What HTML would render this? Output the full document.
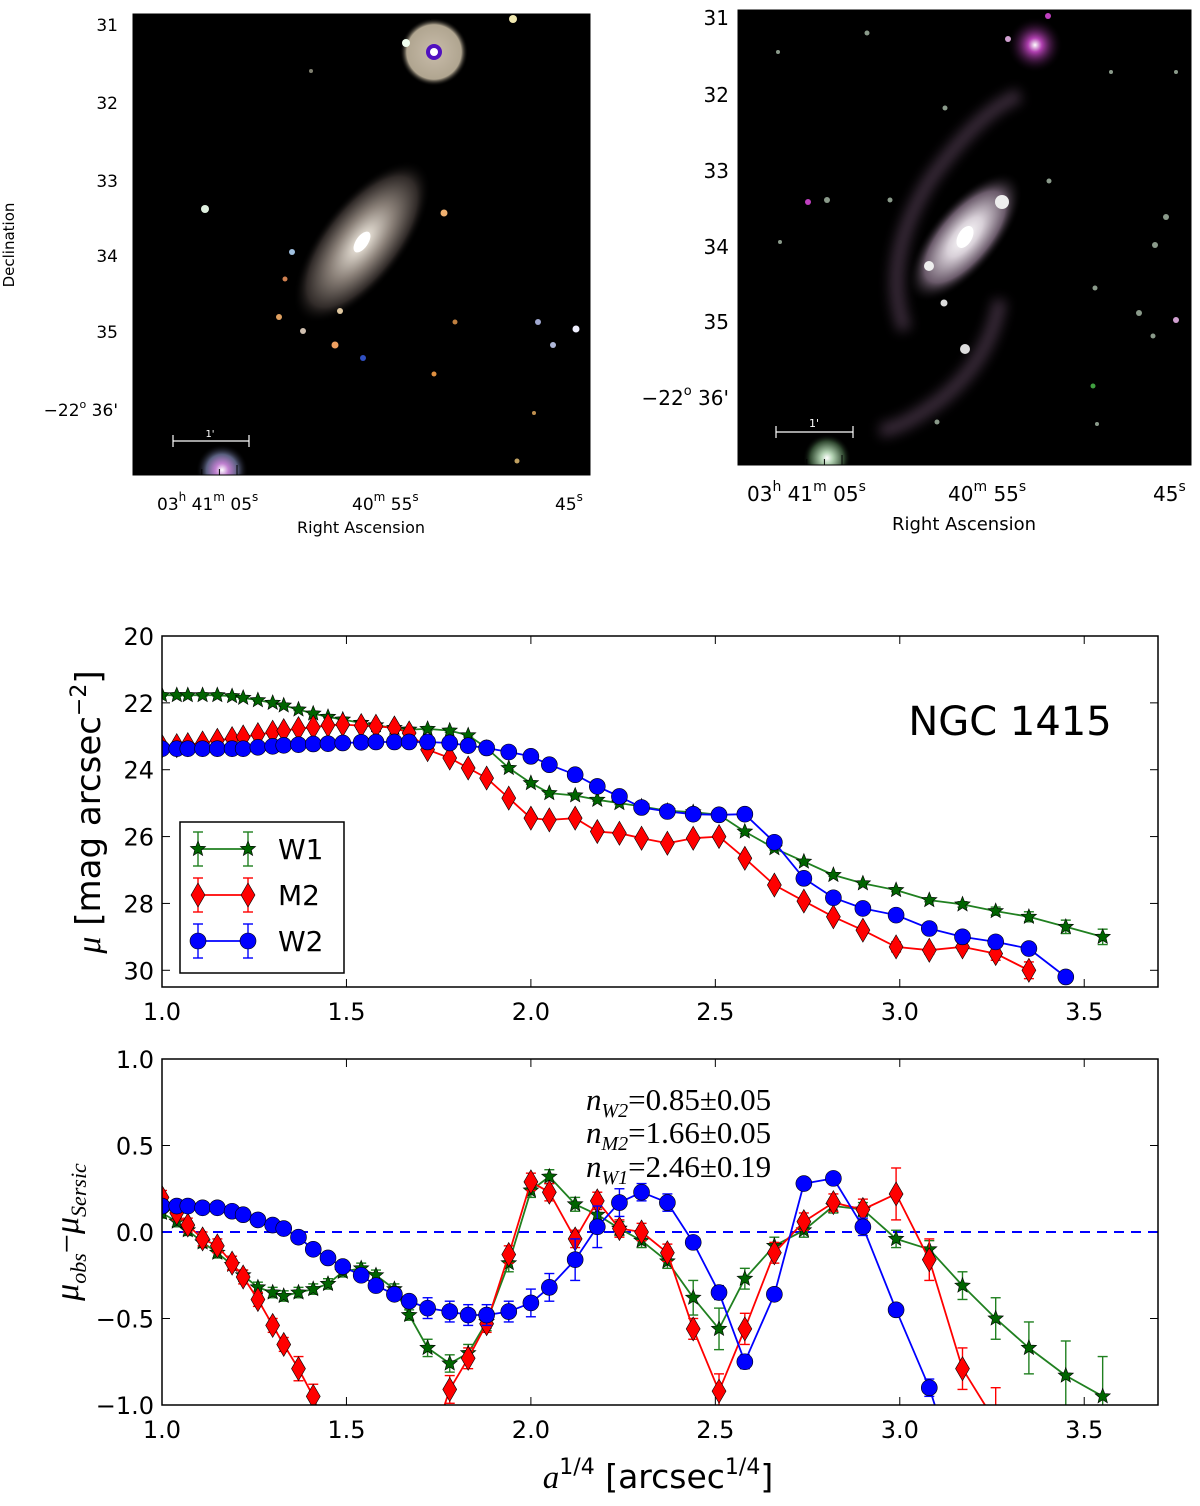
<!DOCTYPE html>
<html><head><meta charset="utf-8"><style>
html,body{margin:0;padding:0;background:#fff;overflow:hidden;}
svg{display:block;font-family:"DejaVu Sans","Liberation Sans",sans-serif;}
</style></head><body>
<svg id="fig" width="1200" height="1506" viewBox="0 0 1200 1506" xmlns="http://www.w3.org/2000/svg">
<defs>
<radialGradient id="galL" cx="50%" cy="50%" r="50%"><stop offset="0" stop-color="#fff"/><stop offset="0.12" stop-color="#ddd6cc"/><stop offset="0.45" stop-color="#8a8078"/><stop offset="0.8" stop-color="#302a28"/><stop offset="1" stop-color="#000" stop-opacity="0"/></radialGradient>
<radialGradient id="galR" cx="50%" cy="50%" r="50%"><stop offset="0" stop-color="#fff"/><stop offset="0.3" stop-color="#d8d0d8"/><stop offset="0.7" stop-color="#6a5a6a"/><stop offset="1" stop-color="#000" stop-opacity="0"/></radialGradient>
<radialGradient id="haloL" cx="50%" cy="50%" r="50%"><stop offset="0" stop-color="#c8bcaa"/><stop offset="0.8" stop-color="#b0a590"/><stop offset="1" stop-color="#000" stop-opacity="0"/></radialGradient>
<radialGradient id="haloP" cx="50%" cy="50%" r="50%"><stop offset="0" stop-color="#fff"/><stop offset="0.25" stop-color="#b040b0"/><stop offset="1" stop-color="#000" stop-opacity="0"/></radialGradient>
<radialGradient id="haloB" cx="50%" cy="50%" r="50%"><stop offset="0" stop-color="#fff"/><stop offset="0.25" stop-color="#c080d0"/><stop offset="0.6" stop-color="#5a6080"/><stop offset="1" stop-color="#000" stop-opacity="0"/></radialGradient>
<radialGradient id="haloG" cx="50%" cy="50%" r="50%"><stop offset="0" stop-color="#fff"/><stop offset="0.25" stop-color="#b0d0b0"/><stop offset="0.7" stop-color="#304830"/><stop offset="1" stop-color="#000" stop-opacity="0"/></radialGradient>
<filter id="blur6"><feGaussianBlur stdDeviation="6"/></filter>
<clipPath id="clipTop"><rect x="162" y="636" width="996" height="351"/></clipPath>
<clipPath id="clipBot"><rect x="162" y="1059" width="996" height="346"/></clipPath>
<clipPath id="clipImgL"><rect x="133" y="14" width="457" height="461"/></clipPath>
<clipPath id="clipImgR"><rect x="738" y="10" width="453" height="455"/></clipPath>
</defs>

<g>
<rect x="133" y="14" width="457" height="461" fill="#000"/>
<g clip-path="url(#clipImgL)">
<ellipse cx="362" cy="242" rx="98" ry="42" transform="rotate(-52 362 242)" fill="url(#galL)"/>
<ellipse cx="362" cy="242" rx="12" ry="6" transform="rotate(-55 362 242)" fill="#fff"/>
<circle cx="434" cy="52" r="34" fill="url(#haloL)"/>
<circle cx="434" cy="52" r="8" fill="#5010c0"/><circle cx="434" cy="52" r="4" fill="#fff"/>
<circle cx="222" cy="470" r="26" fill="url(#haloB)"/>
<g fill="#e8e0d0">
<circle cx="205" cy="209" r="4" fill="#e0f0e0"/><circle cx="444" cy="213" r="3.5" fill="#f0b070"/>
<circle cx="292" cy="252" r="3" fill="#a0c0e0"/><circle cx="285" cy="279" r="2.5" fill="#d08050"/>
<circle cx="279" cy="317" r="3" fill="#e0a060"/><circle cx="303" cy="331" r="3" fill="#d0c0b0"/>
<circle cx="335" cy="345" r="3.5" fill="#f0a060"/><circle cx="340" cy="311" r="3" fill="#e0c8a0"/>
<circle cx="363" cy="358" r="3" fill="#3050c0"/><circle cx="455" cy="322" r="2.5" fill="#c08040"/>
<circle cx="538" cy="322" r="3" fill="#a0a8d0"/><circle cx="576" cy="329" r="3.5" fill="#f0f0ff"/>
<circle cx="553" cy="345" r="3" fill="#b0b8d8"/><circle cx="434" cy="374" r="2.5" fill="#e09040"/>
<circle cx="406" cy="43" r="4" fill="#f0fff0"/><circle cx="513" cy="19" r="4" fill="#f0e8b0"/>
<circle cx="534" cy="413" r="2" fill="#c09050"/><circle cx="517" cy="461" r="2.5" fill="#c0a060"/>
<circle cx="311" cy="71" r="2" fill="#808070"/>
</g>
</g>
<rect x="133" y="14" width="457" height="461" fill="none" stroke="#000" stroke-width="1"/>
<g id="ticksL" stroke="#000" stroke-width="1"></g>
<g fill="#000" font-size="17" text-anchor="end">
<text x="118" y="31">31</text><text x="118" y="109">32</text><text x="118" y="187">33</text><text x="118" y="262">34</text><text x="118" y="338">35</text><text x="118" y="416">−22<tspan font-size="11" dy="-8">o</tspan><tspan dy="8"> 36'</tspan></text>
</g>
<text x="14" y="245" font-size="15" text-anchor="middle" transform="rotate(-90 14 245)">Declination</text>
<g fill="#000" font-size="17">
<text x="157" y="510">03<tspan font-size="12" dy="-9">h</tspan><tspan dy="9"> 41</tspan><tspan font-size="12" dy="-9">m</tspan><tspan dy="9"> 05</tspan><tspan font-size="12" dy="-9">s</tspan></text>
<text x="352" y="510">40<tspan font-size="12" dy="-9">m</tspan><tspan dy="9"> 55</tspan><tspan font-size="12" dy="-9">s</tspan></text>
<text x="555" y="510">45<tspan font-size="12" dy="-9">s</tspan></text>
</g>
<text x="361" y="533" font-size="16" text-anchor="middle">Right Ascension</text>
<g stroke="#fff" stroke-width="1.2"><line x1="173" y1="441" x2="249" y2="441"/><line x1="173" y1="435" x2="173" y2="447"/><line x1="249" y1="435" x2="249" y2="447"/></g>
<text x="210" y="437" fill="#fff" font-size="10" text-anchor="middle">1'</text>
</g>

<g>
<rect x="738" y="10" width="453" height="455" fill="#000"/>
<g clip-path="url(#clipImgR)">
<g filter="url(#blur6)" opacity="0.55">
<path d="M905 330 Q880 260 930 180 Q980 110 1020 95" stroke="#6a506a" stroke-width="14" fill="none"/>
<path d="M1000 300 Q990 360 940 400 Q900 430 880 430" stroke="#6a506a" stroke-width="14" fill="none"/>
</g>
<ellipse cx="965" cy="237" rx="80" ry="34" transform="rotate(-50 965 237)" fill="url(#galR)"/>
<ellipse cx="965" cy="237" rx="12" ry="7" transform="rotate(-60 965 237)" fill="#fff"/>
<circle cx="1002" cy="202" r="7" fill="#eee"/><circle cx="929" cy="266" r="5" fill="#eee"/>
<circle cx="1035" cy="45" r="28" fill="url(#haloP)"/>
<circle cx="827" cy="458" r="24" fill="url(#haloG)"/>
<circle cx="965" cy="349" r="5" fill="#ddd"/>
<g fill="#8a9a8a">
<circle cx="808" cy="202" r="3" fill="#c040c0"/><circle cx="827" cy="200" r="3"/><circle cx="890" cy="200" r="2.5"/>
<circle cx="944" cy="303" r="3.5" fill="#ddd"/><circle cx="1008" cy="39" r="3" fill="#d0a0d0"/>
<circle cx="1166" cy="217" r="3"/><circle cx="1155" cy="245" r="3"/><circle cx="1139" cy="313" r="3"/>
<circle cx="1176" cy="320" r="3" fill="#d0a0d0"/><circle cx="1153" cy="336" r="2.5"/><circle cx="1049" cy="181" r="2.5"/>
<circle cx="945" cy="108" r="2.5"/><circle cx="867" cy="33" r="2.5"/><circle cx="778" cy="52" r="2"/>
<circle cx="937" cy="422" r="2.5"/><circle cx="1095" cy="288" r="2.5"/><circle cx="1097" cy="424" r="2"/>
<circle cx="1111" cy="72" r="2"/><circle cx="1176" cy="72" r="2"/><circle cx="780" cy="242" r="2"/>
<circle cx="1048" cy="16" r="3" fill="#c040c0"/><circle cx="1093" cy="386" r="2.5" fill="#40a040"/>
</g>
</g>
<rect x="738" y="10" width="453" height="455" fill="none" stroke="#000" stroke-width="1"/>
<g id="ticksR" stroke="#000" stroke-width="1"></g>
<g fill="#000" font-size="20" text-anchor="end">
<text x="729" y="25">31</text><text x="729" y="102">32</text><text x="729" y="178">33</text><text x="729" y="254">34</text><text x="729" y="329">35</text><text x="729" y="405">−22<tspan font-size="13" dy="-10">o</tspan><tspan dy="10"> 36'</tspan></text>
</g>
<g fill="#000" font-size="20">
<text x="747" y="501">03<tspan font-size="14" dy="-10">h</tspan><tspan dy="10"> 41</tspan><tspan font-size="14" dy="-10">m</tspan><tspan dy="10"> 05</tspan><tspan font-size="14" dy="-10">s</tspan></text>
<text x="948" y="501">40<tspan font-size="14" dy="-10">m</tspan><tspan dy="10"> 55</tspan><tspan font-size="14" dy="-10">s</tspan></text>
<text x="1153" y="501">45<tspan font-size="14" dy="-10">s</tspan></text>
</g>
<text x="964" y="530" font-size="18" text-anchor="middle">Right Ascension</text>
<g stroke="#fff" stroke-width="1.2"><line x1="776" y1="432" x2="853" y2="432"/><line x1="776" y1="426" x2="776" y2="438"/><line x1="853" y1="426" x2="853" y2="438"/></g>
<text x="814" y="427" fill="#fff" font-size="11" text-anchor="middle">1'</text>
</g>

<g id="topAxes"></g>
<g id="botAxes"></g>

<text x="1010" y="735" font-size="40" text-anchor="middle">NGC 1415</text>
<text transform="translate(100 812) rotate(-90)" font-size="34" text-anchor="middle"><tspan font-family="Liberation Serif,serif" font-style="italic">μ</tspan> [mag arcsec<tspan font-size="22" dy="-14">−2</tspan><tspan dy="14">]</tspan></text>
<text transform="translate(78 1232) rotate(-90)" font-size="34" text-anchor="middle" font-family="Liberation Serif,serif" font-style="italic">μ<tspan font-size="22" dy="8">obs</tspan><tspan dy="-8" font-style="normal">−</tspan>μ<tspan font-size="22" dy="8">Sersic</tspan></text>
<text x="658" y="1488" font-size="33" text-anchor="middle"><tspan font-family="Liberation Serif,serif" font-style="italic">a</tspan><tspan font-size="22" dy="-14">1/4</tspan><tspan dy="14"> [arcsec</tspan><tspan font-size="22" dy="-14">1/4</tspan><tspan dy="14">]</tspan></text>
<g font-family="Liberation Serif,serif" font-size="31">
<text x="586" y="1110"><tspan font-style="italic">n</tspan><tspan font-size="20" dy="7" font-style="italic">W2</tspan><tspan dy="-7">=0.85±0.05</tspan></text>
<text x="586" y="1143"><tspan font-style="italic">n</tspan><tspan font-size="20" dy="7" font-style="italic">M2</tspan><tspan dy="-7">=1.66±0.05</tspan></text>
<text x="586" y="1177"><tspan font-style="italic">n</tspan><tspan font-size="20" dy="7" font-style="italic">W1</tspan><tspan dy="-7">=2.46±0.19</tspan></text>
</g>
<g id="legend"></g>
</svg>
<script>
const aQuarter = [1.00,1.04,1.07,1.11,1.15,1.19,1.22,1.26,1.30,1.33,1.37,1.41,1.45,1.49,1.54,1.58,1.63,1.67,1.72,1.78,1.83,1.88,1.94,2.00,2.05,2.12,2.18,2.24,2.30,2.37,2.44,2.51,2.58,2.66,2.74,2.82,2.90,2.99,3.08,3.17,3.26,3.35,3.45,3.55];
const muW1 = [21.77,21.77,21.77,21.77,21.77,21.80,21.85,21.92,22.00,22.08,22.20,22.32,22.42,22.50,22.60,22.67,22.75,22.80,22.78,22.83,22.97,23.35,23.95,24.40,24.70,24.77,24.90,25.00,25.10,25.23,25.27,25.35,25.85,26.35,26.75,27.15,27.40,27.60,27.90,28.03,28.23,28.40,28.70,29.00];
const muM2 = [23.30,23.28,23.25,23.20,23.12,23.07,23.02,22.95,22.88,22.83,22.77,22.73,22.67,22.65,22.68,22.70,22.75,22.90,23.40,23.65,23.95,24.25,24.85,25.45,25.50,25.45,25.85,25.90,26.05,26.20,26.05,26.00,26.65,27.45,27.93,28.40,28.80,29.30,29.40,29.30,29.50,30.00,null,null];
const muW2 = [23.37,23.37,23.37,23.37,23.37,23.37,23.37,23.33,23.30,23.27,23.25,23.23,23.22,23.20,23.18,23.17,23.17,23.17,23.17,23.20,23.28,23.35,23.47,23.60,23.85,24.15,24.50,24.80,25.13,25.25,25.33,25.35,25.33,26.17,27.25,27.83,28.15,28.35,28.75,29.00,29.15,29.35,30.20,null];
const resW1 = [0.11,0.06,0.01,-0.06,-0.12,-0.19,-0.25,-0.32,-0.35,-0.37,-0.35,-0.33,-0.30,-0.23,-0.21,-0.25,-0.33,-0.48,-0.67,-0.76,-0.70,-0.52,-0.18,0.24,0.32,0.16,0.10,0.02,-0.05,-0.17,-0.38,-0.56,-0.27,-0.08,0.01,0.15,0.13,-0.04,-0.10,-0.31,-0.50,-0.67,-0.83,-0.95];
const resM2 = [0.20,0.11,0.04,-0.04,-0.08,-0.18,-0.26,-0.39,-0.54,-0.65,-0.79,-0.95,-1.20,-1.50,-1.80,-1.90,-1.80,-1.60,-1.30,-0.91,-0.73,-0.53,-0.13,0.29,0.23,-0.04,0.18,0.02,0.00,-0.12,-0.56,-0.92,-0.56,-0.12,0.06,0.17,0.13,0.22,-0.16,-0.79,-1.10,-1.30,null,null];
const resW2 = [0.15,0.15,0.15,0.14,0.14,0.12,0.10,0.07,0.04,0.02,-0.03,-0.10,-0.15,-0.20,-0.25,-0.31,-0.36,-0.40,-0.44,-0.46,-0.48,-0.48,-0.46,-0.41,-0.32,-0.16,0.03,0.17,0.23,0.17,-0.06,-0.35,-0.75,-0.36,0.28,0.31,0.03,-0.45,-0.90,-1.50,-1.80,-2.00,-2.50,null];
const errW1 = [0.03,0.03,0.03,0.03,0.03,0.03,0.03,0.03,0.03,0.03,0.03,0.03,0.03,0.03,0.03,0.03,0.03,0.03,0.05,0.05,0.05,0.05,0.05,0.04,0.04,0.04,0.04,0.04,0.04,0.04,0.10,0.12,0.06,0.05,0.04,0.04,0.04,0.05,0.05,0.08,0.12,0.15,0.20,0.23];
const errM2 = [0.04,0.04,0.04,0.04,0.04,0.04,0.04,0.04,0.04,0.04,0.07,0.07,0.07,0.07,0.07,0.07,0.07,0.07,0.08,0.08,0.06,0.05,0.05,0.05,0.05,0.05,0.05,0.05,0.05,0.05,0.06,0.10,0.09,0.06,0.05,0.05,0.06,0.15,0.12,0.12,0.20,0.25,0,0];
const errW2 = [0.01,0.01,0.01,0.01,0.01,0.01,0.01,0.01,0.01,0.01,0.01,0.01,0.01,0.01,0.03,0.03,0.03,0.03,0.06,0.06,0.06,0.06,0.06,0.08,0.08,0.12,0.12,0.08,0.05,0.05,0.03,0.04,0.04,0.03,0.02,0.02,0.05,0.03,0.05,0.05,0.05,0.05,0.05,0];
const seriesNames = ["W1","M2","W2"];
const seriesColors = ["#007a00","#ff0000","#0000ff"];
const xTicks = [1.0,1.5,2.0,2.5,3.0,3.5];
const yTicksTop = [20,22,24,26,28,30];
const yTicksBot = [1.0,0.5,0.0,-0.5,-1.0];
const sersicFitLine = [0.0];

const NS="http://www.w3.org/2000/svg";
function mk(tag, attrs, parent){const e=document.createElementNS(NS,tag);for(const k in attrs)e.setAttribute(k,attrs[k]);if(parent)parent.appendChild(e);return e;}

const X0=162,X1=1158, XMIN=1.0, XMAX=3.70;
const xs = v => X0 + (v-XMIN)/(XMAX-XMIN)*(X1-X0);
const topY = v => 636 + (v-20)/(30.5-20)*351;
const botY = v => 1059 + (1.0-v)/2.0*346;

function marker(g, kind, x, y, color){
  let m;
  if(kind===0){
    let p=""; const R=8,r=3.5;
    for(let i=0;i<10;i++){const a=-Math.PI/2+i*Math.PI/5;const rr=i%2?r:R;p+=(i?"L":"M")+(x+rr*Math.cos(a)).toFixed(1)+" "+(y+rr*Math.sin(a)).toFixed(1);}
    m=mk("path",{d:p+"Z",fill:color,stroke:"#000","stroke-width":0.6},g);
  } else if(kind===1){
    m=mk("path",{d:`M${x} ${y-12}L${x+7} ${y}L${x} ${y+12}L${x-7} ${y}Z`,fill:color,stroke:"#000","stroke-width":0.6},g);
  } else {
    m=mk("circle",{cx:x,cy:y,r:8,fill:color,stroke:"#000","stroke-width":0.6},g);
  }
  return m;
}

function clipSeg(x1,y1,x2,y2,ya,yb){
  // clip segment to y in [ya,yb]
  let t0=0,t1=1;const dy=y2-y1;
  if(dy===0){ if(y1<ya||y1>yb) return null; return [x1,y1,x2,y2]; }
  let ta=(ya-y1)/dy, tb=(yb-y1)/dy; if(ta>tb){const t=ta;ta=tb;tb=t;}
  t0=Math.max(t0,ta);t1=Math.min(t1,tb); if(t0>t1) return null;
  return [x1+(x2-x1)*t0,y1+dy*t0,x1+(x2-x1)*t1,y1+dy*t1];
}

function drawAxes(root, yTop, yBot, yfn, yTicks, fmt, clipId, seriesVals, errVals, errScale){
  mk("rect",{x:X0,y:yTop,width:X1-X0,height:yBot-yTop,fill:"#fff"},root);
  const tg=mk("g",{stroke:"#000","stroke-width":1},root);
  
  
  xTicks.forEach(t=>{const x=xs(t);mk("line",{x1:x,y1:yBot,x2:x,y2:yBot-8},tg);mk("line",{x1:x,y1:yTop,x2:x,y2:yTop+8},tg);
    const tx=mk("text",{x:x,y:yBot+33,"font-size":24,"text-anchor":"middle",fill:"#000"},root);tx.textContent=t.toFixed(1);
    
    });
  yTicks.forEach(t=>{const y=yfn(t);mk("line",{x1:X0,y1:y,x2:X0+8,y2:y},tg);mk("line",{x1:X1,y1:y,x2:X1-8,y2:y},tg);
    const tx=mk("text",{x:X0-8,y:y+9,"font-size":24,"text-anchor":"end",fill:"#000"},root);tx.textContent=fmt(t);
    
    });
  const cg=mk("g",{"clip-path":`url(#${clipId})`},root);
  if(clipId==="clipBot"){
    const d=mk("line",{x1:X0,x2:X1,y1:yfn(sersicFitLine[0]),y2:yfn(sersicFitLine[0]),stroke:"#0000ff","stroke-width":2,"stroke-dasharray":"10,7"},cg);
    
    
  }
  const inR = y => y>=yTop-2 && y<=yBot+2;
  seriesVals.forEach((vals,si)=>{
    const g=mk("g",{},cg);
    
    
    const col=seriesColors[si];
    const lineCol = si===0?"#208020":col;
    let pts=[];
    vals.forEach((v,i)=>{if(v!==null)pts.push([xs(aQuarter[i]),yfn(v)]);});
    let d="";
    for(let k=0;k+1<pts.length;k++){const s=clipSeg(pts[k][0],pts[k][1],pts[k+1][0],pts[k+1][1],yTop,yBot);
      if(s)d+=`M${s[0].toFixed(1)} ${s[1].toFixed(1)}L${s[2].toFixed(1)} ${s[3].toFixed(1)}`;}
    mk("path",{d:d,fill:"none",stroke:lineCol,"stroke-width":1.8,"stroke-linejoin":"round"},g);
    vals.forEach((v,i)=>{if(v===null)return;const e=errVals[si][i]*errScale;const x=xs(aQuarter[i]);
      if(e>0){let y1=yfn(v-e),y2=yfn(v+e);if(y1<yTop&&y2<yTop)return;if(y1>yBot&&y2>yBot)return;
      const c1=Math.max(yTop,Math.min(yBot,y1)),c2=Math.max(yTop,Math.min(yBot,y2));
      mk("line",{x1:x,x2:x,y1:c1,y2:c2,stroke:lineCol,"stroke-width":1.4},g);
      if(inR(y1))mk("line",{x1:x-5,x2:x+5,y1:y1,y2:y1,stroke:lineCol,"stroke-width":1.4},g);
      if(inR(y2))mk("line",{x1:x-5,x2:x+5,y1:y2,y2:y2,stroke:lineCol,"stroke-width":1.4},g);}});
    vals.forEach((v,i)=>{if(v===null)return;const y=yfn(v);if(y<yTop-12||y>yBot+12)return;
      const m=marker(g,si,xs(aQuarter[i]),y,si===0?"#006400":col);
      
      });
  });
  mk("rect",{x:X0,y:yTop,width:X1-X0,height:yBot-yTop,fill:"none",stroke:"#000","stroke-width":1.5},root);
}
drawAxes(document.getElementById("topAxes"),636,987,topY,yTicksTop,t=>String(t),"clipTop",[muW1,muM2,muW2],[errW1,errM2,errW2],1.0);
drawAxes(document.getElementById("botAxes"),1059,1405,botY,yTicksBot,t=>(t<0?"−":"")+Math.abs(t).toFixed(1),"clipBot",[resW1,resM2,resW2],[errW1,errM2,errW2],1.0);

const lg=document.getElementById("legend");
mk("rect",{x:180,y:822,width:164,height:151,fill:"#fff",stroke:"#000","stroke-width":1.5},lg);
seriesNames.forEach((n,i)=>{
  const y=849+i*46, col=seriesColors[i], lc=i===0?"#208020":col;
  const e=mk("g",{},lg);
  
  
  mk("line",{x1:198,x2:248,y1:y,y2:y,stroke:lc,"stroke-width":1.8},e);
  [198,248].forEach(x=>{mk("line",{x1:x,x2:x,y1:y-17,y2:y+17,stroke:lc,"stroke-width":1.4},e);mk("line",{x1:x-5,x2:x+5,y1:y-17,y2:y-17,stroke:lc,"stroke-width":1.4},e);mk("line",{x1:x-5,x2:x+5,y1:y+17,y2:y+17,stroke:lc,"stroke-width":1.4},e);marker(e,i,x,y,i===0?"#006400":col);});
  const t=mk("text",{x:278,y:y+10,"font-size":28,fill:"#000"},e);t.textContent=n;
});

function imgTicks(id,x0,x1,y0,y1,decYs,long){
  const g=document.getElementById(id);
  for(let x=x0+16;x<x1;x+=17.6){const k=Math.round((x-x0-16)/17.6)%5===0?10:6;
    mk("line",{x1:x,x2:x,y1:y1,y2:y1-k},g);mk("line",{x1:x,x2:x,y1:y0,y2:y0+k},g);}
  decYs.forEach(y=>{mk("line",{x1:x0,x2:x0+10,y1:y,y2:y},g);mk("line",{x1:x1,x2:x1-10,y1:y,y2:y},g);
    if(long){for(let j=1;j<5;j++){const yy=y+j*15.2;mk("line",{x1:x1,x2:x1-6,y1:yy,y2:yy},g);}}});
}
imgTicks("ticksL",133,590,14,475,[25,103,181,256,332,410],false);
imgTicks("ticksR",738,1191,10,465,[18,95,171,247,322,398],true);
</script>
</body></html>
